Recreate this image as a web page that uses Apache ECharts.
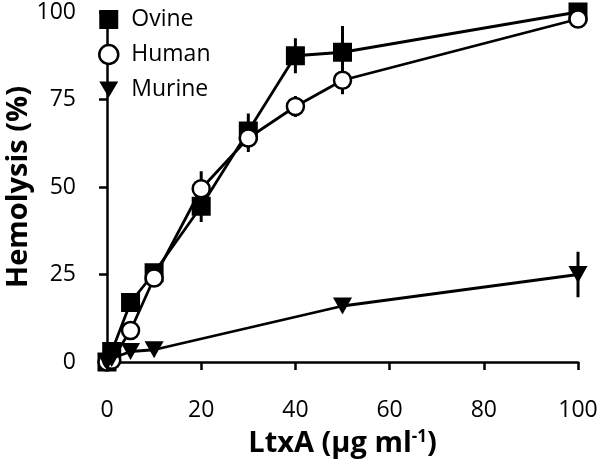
<!DOCTYPE html>
<html>
<head>
<meta charset="utf-8">
<script src="https://cdn.jsdelivr.net/npm/echarts@6/dist/echarts.min.js"></script>
<style>html,body{margin:0;padding:0;background:#fff}#c{width:600px;height:466px}</style>
</head>
<body>
<div id="c"></div>
<script>
// Data
const seriesNames = ['Ovine', 'Human', 'Murine'];
const xOvineHuman = [0, 1, 5, 10, 20, 30, 40, 50, 100];
const ovine = [0, 3, 17, 25.5, 44.5, 66, 87.5, 88.5, 100];
const ovineErr = [0, 0, 0, 1.5, 4.5, 5, 5, 7.5, 0];
const human = [0, 0.5, 9, 24, 49.5, 64, 73, 80.5, 98];
const humanErr = [0, 0, 0, 1, 5, 4, 3, 4, 1];
const xMurine = [0, 1, 5, 10, 50, 100];
const murine = [0, 1, 3, 3.5, 16, 25];
const murineErr = [0, 0, 0, 0, 0.5, 6.5];
const xTicks = [0, 20, 40, 60, 80, 100];
const yTicks = [0, 25, 50, 75, 100];
const xTitle = 'LtxA (µg ml';
const xTitleSup = '-1';
const yTitle = 'Hemolysis (%)';

const FONT = 'Open Sans';
const triDown = 'path://M0,0L20,0L10,17Z';

function pairs(xs, ys) { return xs.map((x, i) => [x, ys[i]]); }
function errData(xs, ys, es) { return xs.map((x, i) => [x, ys[i], es[i]]); }

function errSeries(data) {
  return {
    type: 'custom',
    z: 1,
    clip: false,
    silent: true,
    data: data,
    renderItem: function (params, api) {
      const x = api.value(0), y = api.value(1), e = api.value(2);
      if (!e) return null;
      const p1 = api.coord([x, y - e]);
      const p2 = api.coord([x, y + e]);
      return {
        type: 'line',
        shape: { x1: p1[0], y1: p1[1], x2: p2[0], y2: p2[1] },
        style: { stroke: '#000', lineWidth: 3 }
      };
    }
  };
}

const chart = echarts.init(document.getElementById('c'), null, { renderer: 'canvas' });
chart.setOption({
  animation: false,
  backgroundColor: '#fff',
  textStyle: { fontFamily: FONT },
  grid: { left: 107, right: 22, top: 12, bottom: 104, containLabel: false, outerBoundsMode: 'none' },
  legend: {
    orient: 'vertical',
    left: 98,
    top: 8,
    padding: 0,
    itemWidth: 19,
    itemHeight: 19,
    itemGap: 12,
    textStyle: { fontFamily: FONT, fontSize: 23, color: '#000', padding: [0, 0, 0, 8] },
    data: [
      { name: 'Ovine', icon: 'rect', itemStyle: { color: '#000', borderWidth: 0 } },
      { name: 'Human', icon: 'circle', itemStyle: { color: '#fff', borderColor: '#000', borderWidth: 2.5 } },
      { name: 'Murine', icon: triDown, itemStyle: { color: '#000', borderWidth: 0 } }
    ]
  },
  xAxis: {
    type: 'value',
    min: 0, max: 100, interval: 20,
    offset: 19,
    axisLine: { show: true, lineStyle: { color: '#000', width: 2.5 } },
    axisTick: { show: true, inside: false, length: 8, lineStyle: { color: '#000', width: 2.5 } },
    splitLine: { show: false },
    axisLabel: { color: '#000', fontSize: 23, fontFamily: FONT, margin: 18,
      formatter: v => xTicks.includes(v) ? String(v) : '' },
    name: '{a|' + xTitle + '}{s|' + xTitleSup + '}{a|)}',
    nameLocation: 'middle',
    nameGap: 48,
    nameMoveOverlap: false,
    nameTextStyle: {
      rich: {
        a: { fontFamily: FONT, fontSize: 29, fontWeight: 'bold', color: '#000' },
        s: { fontFamily: FONT, fontSize: 17, fontWeight: 'bold', color: '#000', padding: [0, 0, 12, 0] }
      }
    }
  },
  yAxis: {
    type: 'value',
    min: 0, max: 100, interval: 25,
    offset: 15,
    axisLine: { show: true, lineStyle: { color: '#000', width: 2.5 } },
    axisTick: { show: true, inside: false, length: 8, lineStyle: { color: '#000', width: 2.5 } },
    splitLine: { show: false },
    axisLabel: { color: '#000', fontSize: 23, fontFamily: FONT, margin: 16,
      formatter: v => yTicks.includes(v) ? String(v) : '' },
    name: yTitle,
    nameLocation: 'middle',
    nameRotate: 90,
    nameGap: 59,
    nameMoveOverlap: false,
    nameTextStyle: { fontFamily: FONT, fontSize: 29, fontWeight: 'bold', color: '#000' }
  },
  series: [
    errSeries(errData(xOvineHuman, ovine, ovineErr)),
    errSeries(errData(xOvineHuman, human, humanErr)),
    errSeries(errData(xMurine, murine, murineErr)),
    {
      name: 'Ovine', type: 'line', z: 3, clip: false,
      data: pairs(xOvineHuman, ovine),
      symbol: 'rect', symbolSize: 19,
      lineStyle: { color: '#000', width: 2.8 },
      itemStyle: { color: '#000' }
    },
    {
      name: 'Human', type: 'line', z: 4, clip: false,
      data: pairs(xOvineHuman, human),
      symbol: 'circle', symbolSize: 17,
      lineStyle: { color: '#000', width: 2.8 },
      itemStyle: { color: '#fff', borderColor: '#000', borderWidth: 2.5 }
    },
    {
      name: 'Murine', type: 'line', z: 5, clip: false,
      data: pairs(xMurine, murine),
      symbol: triDown, symbolSize: [19, 17],
      lineStyle: { color: '#000', width: 2.8 },
      itemStyle: { color: '#000' }
    }
  ]
});
</script>
</body>
</html>
